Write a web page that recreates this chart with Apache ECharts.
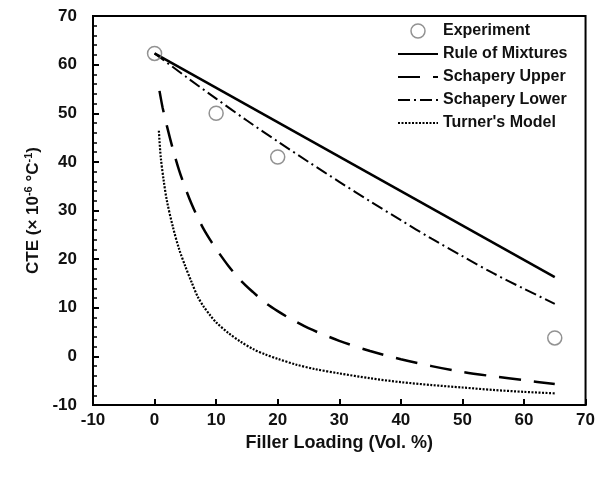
<!DOCTYPE html>
<html>
<head>
<meta charset="utf-8">
<script src="https://cdn.jsdelivr.net/npm/echarts@6/dist/echarts.min.js"></script>
<style>html,body{margin:0;padding:0;background:#fff}#c{width:598px;height:479px}</style>
</head>
<body>
<div id="c"></div>
<script>
// Experiment
var expX = [0, 10, 20, 65];
var expY = [62.3, 50, 41, 3.8];
// Rule of Mixtures
var romX = [0, 65];
var romY = [62.3, 16.3];
// Schapery Upper
var suX = [0.8, 1.3, 2, 3, 4, 5, 6, 7, 8, 9, 10, 12, 14, 16, 18, 20, 22, 25, 30, 35, 40, 45, 50, 55, 60, 65];
var suY = [54.6, 51.2, 47.4, 42.5, 38.2, 34.6, 31.4, 28.6, 26.1, 24.0, 22.1, 18.6, 15.6, 13.2, 11.0, 9.3, 7.8, 5.8, 3.2, 1.1, -0.6, -2.0, -3.2, -4.1, -4.9, -5.7];
// Schapery Lower
var slX = [0, 5, 10, 15, 20, 25, 30, 35, 40, 45, 50, 55, 60, 65];
var slY = [62.3, 57.6, 53.0, 48.5, 44.2, 40.0, 35.9, 31.9, 28.0, 24.2, 20.6, 17.1, 13.9, 10.8];
// Turner's Model
var tuX = [0.7, 1, 1.5, 2, 3, 4, 5, 6, 7, 8, 9, 10, 12, 14, 16, 18, 20, 23, 26, 30, 35, 40, 45, 50, 55, 60, 65];
var tuY = [46.4, 41, 36, 32, 26.5, 22, 18.5, 15.3, 12.3, 10.2, 8.5, 7.0, 4.8, 3.0, 1.5, 0.4, -0.5, -1.7, -2.6, -3.5, -4.5, -5.3, -5.9, -6.4, -6.9, -7.3, -7.6];
// axis ticks
var axisMin = -10, axisMax = 70, axisStep = 10;

function pairs(xs, ys) { return xs.map(function (x, i) { return [x, ys[i]]; }); }

var FONT = 'Liberation Sans, Arial, sans-serif';
var hideSym = { opacity: 0 };
var chart = echarts.init(document.getElementById('c'), null, { renderer: 'canvas' });
chart.setOption({
  animation: false,
  backgroundColor: '#fff',
  grid: { left: 93, right: 8, top: 16, bottom: 74, show: true, borderColor: '#000', borderWidth: 2, backgroundColor: 'transparent' },
  legend: {
    orient: 'vertical', left: 397, top: 23, padding: 0, itemWidth: 40, itemHeight: 14, itemGap: 7,
    textStyle: { fontFamily: FONT, fontWeight: 'bold', fontSize: 16, color: '#111' },
    data: [
      { name: 'Experiment', icon: 'circle', itemStyle: { color: '#fff', borderColor: '#777', borderWidth: 1.5 } },
      { name: 'Rule of Mixtures', itemStyle: hideSym },
      { name: 'Schapery Upper', itemStyle: hideSym },
      { name: 'Schapery Lower', itemStyle: hideSym },
      { name: "Turner's Model", itemStyle: hideSym }
    ]
  },
  xAxis: {
    type: 'value', min: axisMin, max: axisMax, interval: axisStep,
    name: 'Filler Loading (Vol. %)', nameLocation: 'middle', nameGap: 21,
    nameTextStyle: { fontFamily: FONT, fontWeight: 'bold', fontSize: 18, color: '#111' },
    axisLine: { show: true, onZero: false, lineStyle: { color: '#000', width: 2 } },
    axisTick: { show: true, inside: true, length: 6, lineStyle: { color: '#000', width: 2 } },
    axisLabel: { margin: 7, fontFamily: FONT, fontWeight: 'bold', fontSize: 17, color: '#111' },
    splitLine: { show: false }
  },
  yAxis: {
    type: 'value', min: axisMin, max: axisMax, interval: axisStep,
    name: '{a|CTE (× 10}{s|-6}{a| °C}{s|-1}{a|)}', nameLocation: 'middle', nameGap: 50,
    nameTextStyle: {
      fontFamily: FONT, fontWeight: 'bold', fontSize: 17, color: '#111',
      rich: {
        a: { fontFamily: FONT, fontWeight: 'bold', fontSize: 17, color: '#111' },
        s: { fontFamily: FONT, fontWeight: 'bold', fontSize: 11, color: '#111', verticalAlign: 'bottom', padding: [0, 0, 9, 0] }
      }
    },
    axisLine: { show: true, onZero: false, lineStyle: { color: '#000', width: 2 } },
    axisTick: { show: true, inside: true, length: 6, lineStyle: { color: '#000', width: 2 } },
    minorTick: { show: true, splitNumber: 5, length: 4, lineStyle: { color: '#000', width: 1.5 } },
    axisLabel: { margin: 16, fontFamily: FONT, fontWeight: 'bold', fontSize: 17, color: '#111' },
    splitLine: { show: false }
  },
  series: [
    { name: 'Experiment', type: 'scatter', data: pairs(expX, expY), symbol: 'circle', symbolSize: 14,
      itemStyle: { color: 'rgba(255,255,255,0)', borderColor: '#777', borderWidth: 1.5 }, z: 5 },
    { name: 'Rule of Mixtures', type: 'line', data: pairs(romX, romY), symbol: 'none', showSymbol: false,
      lineStyle: { color: '#000', width: 2.5, type: 'solid' }, itemStyle: { color: '#000' } },
    { name: 'Schapery Upper', type: 'line', data: pairs(suX, suY), symbol: 'none', showSymbol: false, smooth: 0.3,
      lineStyle: { color: '#000', width: 2.5, type: [22, 13] }, itemStyle: { color: '#000' } },
    { name: 'Schapery Lower', type: 'line', data: pairs(slX, slY), symbol: 'none', showSymbol: false, smooth: 0.3,
      lineStyle: { color: '#000', width: 2, type: [12, 4, 2, 4] }, itemStyle: { color: '#000' } },
    { name: "Turner's Model", type: 'line', data: pairs(tuX, tuY), symbol: 'none', showSymbol: false, smooth: 0.3,
      lineStyle: { color: '#000', width: 2.2, type: [2, 1.5] }, itemStyle: { color: '#000' } }
  ]
});
</script>
</body>
</html>
